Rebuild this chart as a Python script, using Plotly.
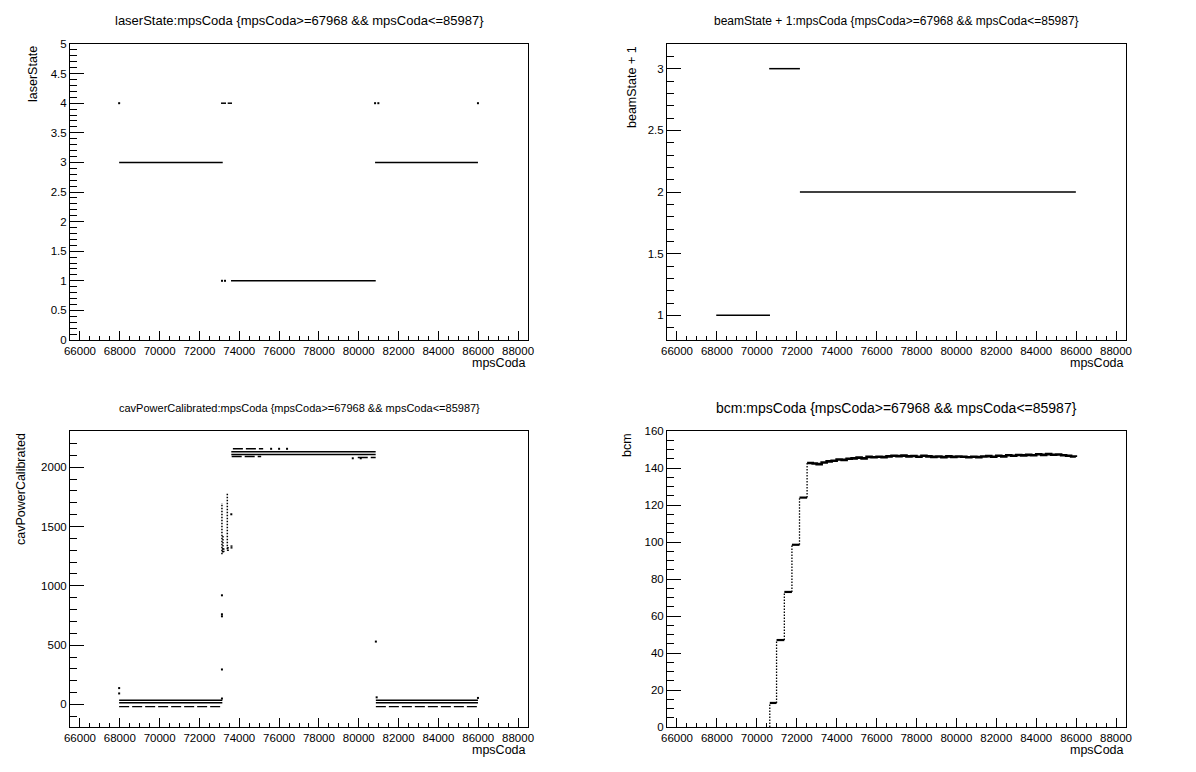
import plotly.graph_objects as go

FONT = "Liberation Sans, Arial, Helvetica, sans-serif"
W, H = 1196, 772

# ---------------- data ----------------
x_range = [65500, 88500]
x_tick0, x_dtick = 66000, 2000

# laserState vs mpsCoda : horizontal runs (start, end, value)
laser_run_start = [67968, 73586, 80820, 73084, 73420]
laser_run_end = [73170, 80854, 85987, 73335, 73636]
laser_run_value = [3, 1, 3, 4, 4]
laser_pts_x = [67968, 80820, 80985, 85987, 73134, 73285]
laser_pts_y = [4, 4, 4, 4, 1, 1]

# beamState + 1 vs mpsCoda
beam_run_start = [67968, 70620, 72160]
beam_run_end = [70660, 72160, 85987]
beam_run_value = [1, 3, 2]

# cavPowerCalibrated vs mpsCoda
cav_solid_start = [67968, 80860, 67968, 80860, 73600, 73600]
cav_solid_end = [73150, 85987, 73150, 85987, 80850, 80850]
cav_solid_value = [35, 35, 15, 15, 2130, 2107]
cav_broken_start = [67968, 80860, 73680, 73620, 79950]
cav_broken_end = [73150, 85987, 75200, 75100, 80850]
cav_broken_value = [-18, -18, 2155, 2090, 2082]
cav_col_x = [73130, 73400, 73180]
cav_col_low = [1266, 1308, 1280]
cav_col_high = [1699, 1789, 1420]
cav_dash_start = [73130, 73130, 73380, 73380, 73560, 73560]
cav_dash_end = [73260, 73260, 73480, 73480, 73660, 73660]
cav_dash_value = [1290, 1310, 1300, 1320, 1320, 1335]
cav_pts_x = [67968, 67968, 73130, 73130, 73130, 73130, 73130, 73600, 80860, 85987, 80900,
             75600, 76000, 76400, 79700, 80100]
cav_pts_y = [138, 93, 920, 760, 743, 295, 50, 1603, 530, 55, 60,
             2155, 2155, 2155, 2075, 2075]

# bcm vs mpsCoda : beam off (0) until ramp-up, steps, then running readings
bcm_off_value = 0
bcm_step_start = [70650, 70990, 71380, 71760, 72140]
bcm_step_end = [70990, 71380, 71760, 72140, 72520]
bcm_step_value = [13, 47, 73, 98.5, 124]
bcm_read_x = [72520, 72800, 73000, 73250, 73500, 73750, 74000, 74250, 74500, 74750,
              75000, 75250, 75500, 75750, 76000, 76250, 76500, 76750, 77000, 77250,
              77500, 77750, 78000, 78250, 78500, 78750, 79000, 79250, 79500, 79750,
              80000, 80250, 80500, 80750, 81000, 81250, 81500, 81750, 82000, 82250,
              82500, 82750, 83000, 83250, 83500, 83750, 84000, 84250, 84500, 84750,
              85000, 85250, 85500, 85750, 85987]
bcm_read_y = [142.7, 142.4, 142.1, 143.0, 143.6, 143.9, 144.6, 144.4, 145.0, 145.2,
              145.6, 145.2, 146.0, 145.8, 146.1, 145.9, 146.3, 146.6, 146.4, 146.7,
              146.3, 146.5, 146.1, 146.6, 146.3, 146.0, 146.2, 145.9, 146.3, 146.0,
              146.2, 146.1, 145.8, 146.1, 145.9, 146.2, 146.4, 146.1, 146.6, 146.3,
              146.9, 146.6, 147.0, 146.8, 147.1, 146.9, 147.4, 147.1, 147.5, 147.2,
              147.3, 146.9, 146.6, 146.2, 145.9]

panels = [
    dict(title="laserState:mpsCoda {mpsCoda>=67968 && mpsCoda<=85987}", ytitle="laserState",
         yrange=[0, 5], ytick0=0, ydtick=0.5, yminor=0.1, tsize=13, yoff=37),
    dict(title="beamState + 1:mpsCoda {mpsCoda>=67968 && mpsCoda<=85987}", ytitle="beamState + 1",
         yrange=[0.8, 3.2], ytick0=1, ydtick=0.5, yminor=0.1, tsize=12, yoff=35),
    dict(title="cavPowerCalibrated:mpsCoda {mpsCoda>=67968 && mpsCoda<=85987}", ytitle="cavPowerCalibrated",
         yrange=[-190, 2305], ytick0=0, ydtick=500, yminor=100, tsize=11, yoff=49),
    dict(title="bcm:mpsCoda {mpsCoda>=67968 && mpsCoda<=85987}", ytitle="bcm",
         yrange=[0, 160], ytick0=0, ydtick=20, yminor=5, tsize=14, yoff=40),
]
# pixel frames: left, right, top, bottom
frames = [(70, 528, 44, 340), (667, 1126, 44, 340), (70, 528, 431, 727), (667, 1126, 431, 727)]


def runs(starts, ends, values):
    xs, ys = [], []
    for a, b, v in zip(starts, ends, values):
        xs += [a, b, None]
        ys += [v, v, None]
    return xs, ys


def cols(xc, lo, hi):
    xs, ys = [], []
    for x, a, b in zip(xc, lo, hi):
        xs += [x, x, None]
        ys += [a, b, None]
    return xs, ys


fig = go.Figure()
BLK = "black"


def add_line(xs, ys, k, width=1.5, dash=None, shape="linear"):
    ax = "" if k == 1 else str(k)
    fig.add_trace(go.Scatter(x=xs, y=ys, mode="lines", xaxis="x" + ax, yaxis="y" + ax,
                             line=dict(color=BLK, width=width, dash=dash, shape=shape),
                             showlegend=False, hoverinfo="skip", connectgaps=False))


def add_pts(xs, ys, k, size=2):
    ax = "" if k == 1 else str(k)
    fig.add_trace(go.Scatter(x=xs, y=ys, mode="markers", xaxis="x" + ax, yaxis="y" + ax,
                             marker=dict(color=BLK, size=size, symbol="square", line=dict(width=0)),
                             showlegend=False, hoverinfo="skip"))


# panel 1
add_line(*runs(laser_run_start, laser_run_end, laser_run_value), 1)
add_pts(laser_pts_x, laser_pts_y, 1)
# panel 2
add_line(*runs(beam_run_start, beam_run_end, beam_run_value), 2)
# panel 3
add_line(*runs(cav_solid_start, cav_solid_end, cav_solid_value), 3, width=1.4)
add_line(*runs(cav_broken_start, cav_broken_end, cav_broken_value), 3, width=1.4, dash="10px,3px")
add_line(*cols(cav_col_x, cav_col_low, cav_col_high), 3, width=1.5, dash="1.5px,1.5px")
add_line(*runs(cav_dash_start, cav_dash_end, cav_dash_value), 3, width=1.4)
add_pts(cav_pts_x, cav_pts_y, 3, size=2)
# panel 4
add_line(*runs(bcm_step_start, bcm_step_end, bcm_step_value), 4, width=2.2)
trans_x = [bcm_step_start[0]] + bcm_step_end
trans_lo = [bcm_off_value] + bcm_step_value
trans_hi = bcm_step_value + [bcm_read_y[0]]
add_line(*cols(trans_x, trans_lo, trans_hi), 4, width=1.3, dash="1.5px,1.5px")
add_line(bcm_read_x, bcm_read_y, 4, width=2.6, shape="hv")

layout = dict(template="none", width=W, height=H, autosize=False,
              margin=dict(l=0, r=0, t=0, b=0, pad=0, autoexpand=False),
              paper_bgcolor="white", plot_bgcolor="white", showlegend=False,
              font=dict(family=FONT, color=BLK))
annotations = []
for i, (p, (l, r, t, b)) in enumerate(zip(panels, frames), start=1):
    sfx = "" if i == 1 else str(i)
    xd = [l / W, r / W]
    yd = [1 - b / H, 1 - t / H]
    layout["xaxis" + sfx] = dict(
        domain=xd, anchor="y" + sfx, range=x_range, automargin=False, tickmode="linear",
        tick0=x_tick0, dtick=x_dtick,
        tickformat="d", showline=True, linecolor=BLK, linewidth=1, mirror=True,
        ticks="inside", ticklen=9, tickcolor=BLK, tickwidth=1, showgrid=False, zeroline=False,
        tickfont=dict(family=FONT, size=11.5, color=BLK),
        minor=dict(ticks="inside", ticklen=4.5, tickcolor=BLK, tick0=x_tick0, dtick=500, showgrid=False))
    layout["yaxis" + sfx] = dict(
        domain=yd, anchor="x" + sfx, range=p["yrange"], automargin=False, tickmode="linear",
        tick0=p["ytick0"],
        dtick=p["ydtick"], showline=True, linecolor=BLK, linewidth=1, mirror=True,
        ticks="inside", ticklen=14, tickcolor=BLK, tickwidth=1, showgrid=False, zeroline=False,
        tickfont=dict(family=FONT, size=11.5, color=BLK),
        minor=dict(ticks="inside", ticklen=7, tickcolor=BLK, tick0=p["ytick0"], dtick=p["yminor"],
                   showgrid=False))
    cy = 21 if t < 100 else 408
    annotations.append(dict(text=p["title"], x=(l + r) / 2 / W, y=1 - cy / H, xref="paper", yref="paper",
                            xanchor="center", yanchor="middle", showarrow=False,
                            font=dict(family=FONT, size=p["tsize"], color=BLK)))
    annotations.append(dict(text="mpsCoda", x=r / W, y=1 - (b + 14) / H, xref="paper", yref="paper",
                            xanchor="right", yanchor="top", showarrow=False,
                            font=dict(family=FONT, size=12.5, color=BLK)))
    annotations.append(dict(text=p["ytitle"], x=(l - p["yoff"]) / W, y=1 - t / H, xref="paper", yref="paper",
                            xanchor="center", yanchor="top", textangle=-90, showarrow=False,
                            font=dict(family=FONT, size=12.5, color=BLK)))
layout["annotations"] = annotations
fig.update_layout(**layout)
fig.write_html("out.html", config={"displayModeBar": False, "staticPlot": True},
               post_script="document.body.style.margin='0px';document.body.style.overflow='hidden';")
